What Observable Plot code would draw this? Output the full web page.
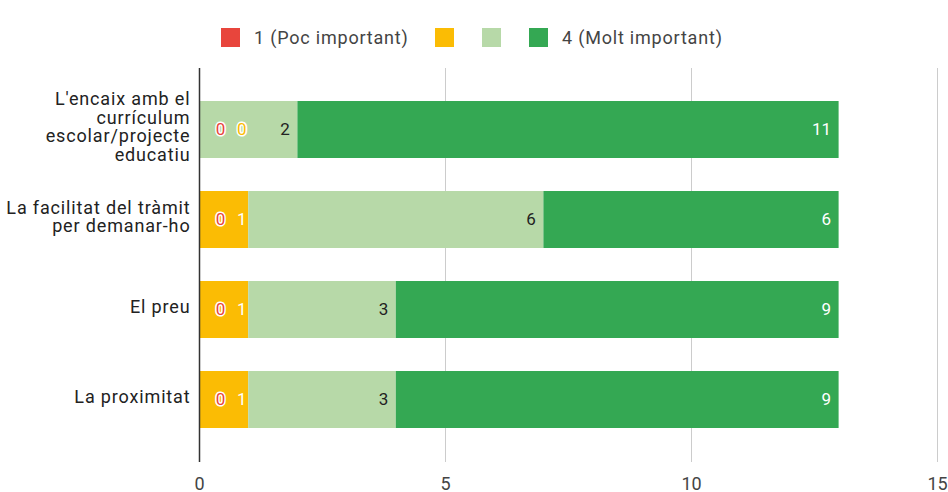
<!DOCTYPE html>
<html><head><meta charset="utf-8">
<script src="https://cdn.jsdelivr.net/npm/d3@7"></script>
<script src="https://cdn.jsdelivr.net/npm/@observablehq/plot@0.6"></script>
<style>
body{margin:0;background:#fff;font-family:Roboto, sans-serif;}
#legend{position:relative;height:58px;width:948px;}
.item{position:absolute;top:28px;display:flex;align-items:center;height:19px;font-size:18px;color:#444;white-space:nowrap;letter-spacing:0.8px;}
.sw{width:19px;height:19px;margin-right:14px;flex:none;}
#chart svg{display:block;}
</style></head><body>
<div id="legend"></div>
<div id="chart"></div>
<script>
const categories = ["L'encaix amb el currículum escolar/projecte educatiu", "La facilitat del tràmit per demanar-ho", "El preu", "La proximitat"];
const categoryLines = ["L'encaix amb el\ncurrículum\nescolar/projecte\neducatiu", "La facilitat del tràmit\nper demanar-ho", "El preu", "La proximitat"];
const seriesKeys = ["1", "2", "3", "4"];
const seriesNames = ["1 (Poc important)", "", "", "4 (Molt important)"];
const seriesColors = ["#e8453c", "#fbbc04", "#b7d9a8", "#34a853"];
const values1 = [0, 0, 0, 0];
const values2 = [0, 1, 1, 1];
const values3 = [2, 6, 3, 3];
const values4 = [11, 6, 9, 9];
const xTicks = [0, 5, 10, 15];
const legendLefts = [221, 435, 482, 529];

// legend
const legend = document.getElementById("legend");
seriesKeys.forEach((k, i) => {
  const it = document.createElement("div");
  it.className = "item";
  it.style.left = legendLefts[i] + "px";
  const sw = document.createElement("div");
  sw.className = "sw";
  sw.style.background = seriesColors[i];
  it.appendChild(sw);
  if (seriesNames[i]) {
    const t = document.createElement("span");
    t.textContent = seriesNames[i];
    it.appendChild(t);
  }
  legend.appendChild(it);
});

const allValues = [values1, values2, values3, values4];
const rows = [];
categories.forEach((c, ci) => {
  let acc = 0;
  seriesKeys.forEach((s, si) => {
    const v = allValues[si][ci];
    rows.push({cat: c, series: s, si, value: v, x1: acc, x2: acc + v});
    acc += v;
  });
});

const labelFill = d => d.value === 0 ? seriesColors[d.si] : (d.si === 2 ? "#222" : "#fff");
const zeroHalo = d => d.value === 0 ? "#fff" : "none";

const plot = Plot.plot({
  width: 948,
  height: 434,
  marginTop: 10,
  marginBottom: 30,
  marginLeft: 199,
  marginRight: 11,
  style: {fontFamily: "Roboto, sans-serif", fontSize: "18px", background: "#fff"},
  x: {domain: [0, 15]},
  y: {domain: categories, padding: 0.365, label: null},
  color: {domain: seriesKeys, range: seriesColors},
  marks: [
    Plot.ruleX(xTicks.filter(d => d > 0), {stroke: "#cccccc", strokeWidth: 1}),
    Plot.barX(rows, {x1: "x1", x2: "x2", y: "cat", fill: "series"}),
    Plot.ruleX([0], {stroke: "#333", strokeWidth: 1.5}),
    Plot.axisX({ticks: xTicks, tickSize: 0, tickPadding: 15, fill: "#444", fontSize: 18, label: null}),
    Plot.axisY({tickSize: 0, tickPadding: 9, fill: "#222", fontSize: 18, lineHeight: 1.03, label: null, dy: -3,
      tickFormat: d => categoryLines[categories.indexOf(d)]}),
    // labels for the first series
    Plot.text(rows.filter(d => d.si === 0), {x: "x1", y: "cat", text: d => String(d.value),
      textAnchor: "middle", dx: 21, fontSize: 17, fill: labelFill, stroke: zeroHalo, strokeWidth: 3, paintOrder: "stroke"}),
    // labels for the second series
    Plot.text(rows.filter(d => d.si === 1), {x: 0, y: "cat", text: d => String(d.value),
      textAnchor: "end", dx: 47, fontSize: 17, fill: labelFill, stroke: zeroHalo, strokeWidth: 3, paintOrder: "stroke"}),
    // labels for the other series
    Plot.text(rows.filter(d => d.si >= 2), {x: "x2", y: "cat", text: d => String(d.value),
      textAnchor: "end", dx: -8, fontSize: 17, fill: labelFill})
  ]
});
d3.select(plot).selectAll('g[aria-label="y-axis tick label"]').attr("letter-spacing", "0.85px");
document.getElementById("chart").appendChild(plot);
</script>
</body></html>
